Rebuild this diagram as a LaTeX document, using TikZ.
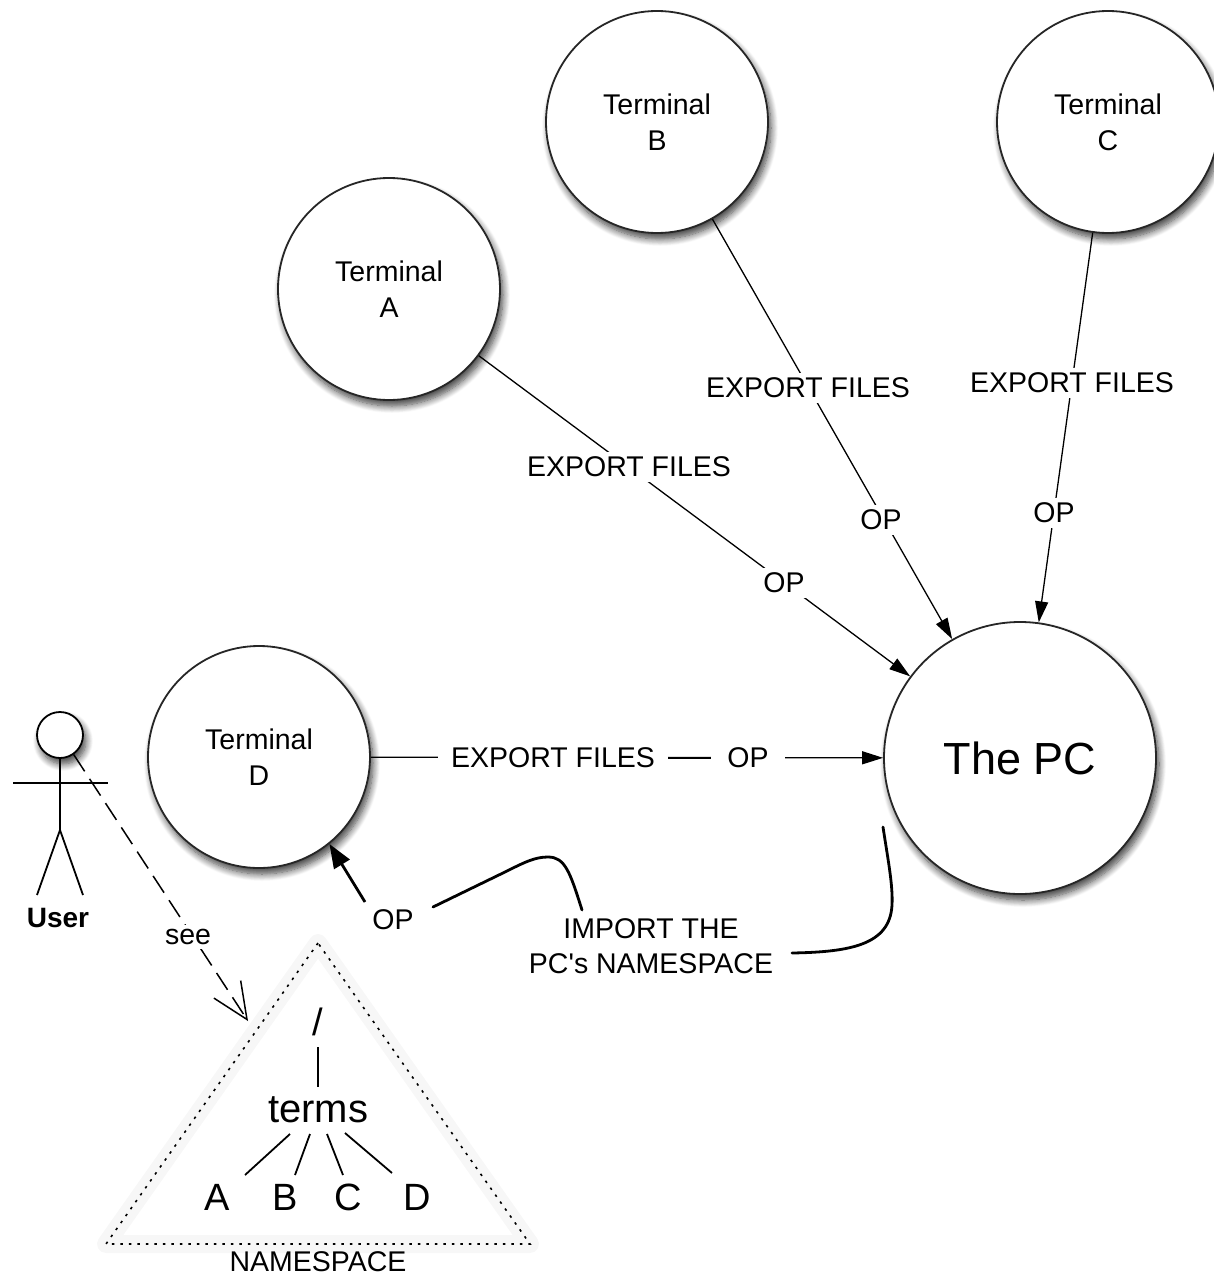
\documentclass[tikz,border=0pt]{standalone}
\usepackage{fontspec}
\setmainfont{Liberation Sans}
\usetikzlibrary{arrows.meta,shadows.blur}
\begin{document}
\begin{tikzpicture}[x=1pt,y=-1pt,
  sh/.style={blur shadow={shadow xshift=3pt,shadow yshift=-6pt,shadow blur radius=7pt,shadow blur steps=10,shadow opacity=75}},
  term/.style={circle,draw=black!85,line width=1.8pt,fill=white,minimum size=222pt,inner sep=0pt,
    align=center,font=\fontsize{28.5}{36}\selectfont,sh},
  lbl/.style={fill=white,inner xsep=11pt,inner ysep=5pt,font=\fontsize{28.5}{35}\selectfont},
  expline/.style={line width=1.3pt,-{Triangle[length=21pt,width=13pt]}},
  impline/.style={line width=2.8pt,line cap=round},
  fig/.style={line width=1.8pt},
  seeline/.style={line width=1.5pt,dash pattern=on 20pt off 9pt,-{Straight Barb[length=36pt,width=32pt,line width=1.5pt]}},
  nsdots/.style={line width=1.6pt,dash pattern=on 2.5pt off 6pt},
  big/.style={font=\fontsize{38}{42}\selectfont},
  tline/.style={line width=1.8pt}
]
\useasboundingbox (0,0) rectangle (1214,1276);

% terminals and PC
\node[term] (A) at (389,289) {Terminal\\A};
\node[term] (B) at (657,122) {Terminal\\B};
\node[term] (C) at (1108,122) {Terminal\\C};
\node[term] (D) at (259,757) {Terminal\\D};
\node[term,minimum size=272pt,font=\fontsize{45}{50}\selectfont] (PC) at (1020,758) {The PC};

% export connectors
\draw[expline] (A) -- (PC);
\draw[expline] (B) -- (PC);
\draw[expline] (C) -- (PC);
\draw[expline] (D) -- (PC);

\node[lbl] (ea) at (629,467) {EXPORT FILES};
\node[lbl] (oa) at (784,583) {OP};
\node[lbl] (eb) at (808,388) {EXPORT FILES};
\node[lbl] (ob) at (881,520) {OP};
\node[lbl] (ec) at (1072,383) {EXPORT FILES};
\node[lbl] (oc) at (1054,513) {OP};
\node[lbl,inner xsep=13pt] (ed) at (553,758) {EXPORT FILES};
\node[lbl,inner xsep=16pt] (od) at (748,758) {OP};
\draw[line width=1.3pt] (ed.east) -- (od.west);

% import connector
\node[lbl,align=center,inner sep=2pt] (imp) at (651,946) {IMPORT THE\\PC\textquotesingle s NAMESPACE};
\node[lbl,inner sep=2pt] (op5) at (393,920) {OP};
\coordinate (i1) at (883,827);
\coordinate (i2) at (792,953);
\coordinate (i3) at (582,910);
\coordinate (i4) at (433,907);
\coordinate (i5) at (365,902);
\draw[impline] (i1) .. controls (888,860) and (893,885) .. (892,905) .. controls (890,945) and (850,952) .. (i2);
\draw[impline] (i3) .. controls (570,872) and (565,857) .. (548,857) .. controls (535,857) and (525,862) .. (505,872) -- (i4);
\draw[line width=2.8pt,-{Triangle[length=24pt,width=18pt]}] (i5) -- (D.-51);

% user
\node[circle,draw,line width=1.8pt,fill=white,minimum size=46pt,inner sep=0pt,sh] (head) at (60,735) {};
\coordinate (hip) at (60,830);
\coordinate (armL) at (13,783);
\coordinate (armR) at (108,783);
\coordinate (legL) at (37,895);
\coordinate (legR) at (83,895);
\draw[fig] (head.south) -- (hip);
\draw[fig] (armL) -- (armR);
\draw[fig] (legL) -- (hip) -- (legR);
\node[font=\bfseries\fontsize{28}{30}\selectfont] (user) at (58,918) {User};

% namespace triangle
\coordinate (t1) at (318,943);
\coordinate (t2) at (106,1244);
\coordinate (t3) at (530,1244);
\draw[black!3,line width=18pt,line join=round] (t1) -- (t2) -- (t3) -- cycle;
\draw[nsdots] (t1) -- (t2) -- (t3) -- cycle;
\node[font=\fontsize{28.5}{30}\selectfont] (ns) at (318,1262) {NAMESPACE};

% see
\coordinate (seeEnd) at (248,1021);
\draw[seeline] (head.-55) -- (seeEnd);
\node[lbl,inner xsep=4pt,inner ysep=4pt] (see) at (188,937) {see};

% tree
\node[big] (root) at (318,1022) {/};
\node[font=\fontsize{40}{44}\selectfont] (terms) at (318,1110) {terms};
\node[big] (la) at (217,1197) {A};
\node[big] (lb) at (285,1197) {B};
\node[big] (lc) at (348,1197) {C};
\node[big] (ld) at (417,1197) {D};
\coordinate (r1) at (318,1047);
\coordinate (r2) at (318,1087);
\draw[tline] (r1) -- (r2);
\coordinate (ta) at (290,1134); \coordinate (ea1) at (245,1175);
\coordinate (tb) at (310,1134); \coordinate (eb1) at (295,1175);
\coordinate (tc) at (327,1134); \coordinate (ec1) at (343,1175);
\coordinate (td) at (345,1133); \coordinate (ed1) at (392,1173);
\draw[tline] (ta) -- (ea1);
\draw[tline] (tb) -- (eb1);
\draw[tline] (tc) -- (ec1);
\draw[tline] (td) -- (ed1);
\end{tikzpicture}
\end{document}
